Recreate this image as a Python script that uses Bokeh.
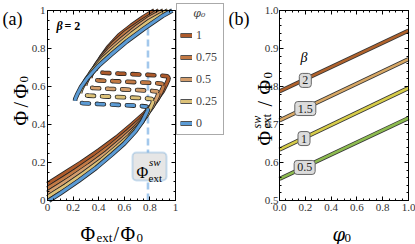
import math
from bokeh.plotting import figure
from bokeh.models import (Range1d, FixedTicker, LinearAxis, Label, Legend,
                          LegendItem, BoxAnnotation, CustomJSTickFormatter)
from bokeh.layouts import row
from bokeh.embed import file_html
from bokeh.resources import INLINE

# ---------------- panel (a) data : Phi/Phi0 vs Phi_ext/Phi0, beta = 2 ----------------
# phi0 = 0
x_lo_0 = [0.012, 0.1, 0.245, 0.38, 0.505, 0.6, 0.6875, 0.74, 0.77, 0.783, 0.785]
y_lo_0 = [0.0, 0.038, 0.105, 0.172, 0.243, 0.30, 0.365, 0.415, 0.455, 0.475, 0.485]
x_mid_0 = [0.785, 0.775, 0.72, 0.6, 0.5, 0.4, 0.28, 0.225, 0.215]
y_mid_0 = [0.485, 0.494, 0.498, 0.502, 0.505, 0.508, 0.512, 0.516, 0.525]
x_up_0 = [0.215, 0.217, 0.23, 0.26, 0.3125, 0.4, 0.495, 0.62, 0.755, 0.9, 0.975]
y_up_0 = [0.525, 0.535, 0.555, 0.595, 0.645, 0.71, 0.767, 0.838, 0.905, 0.972, 1.0]
# phi0 = 0.25
x_lo_025 = [0.0, 0.04, 0.14, 0.285, 0.42, 0.545, 0.64, 0.7275, 0.78, 0.81, 0.823, 0.825]
y_lo_025 = [0.018, 0.035, 0.078, 0.145, 0.212, 0.283, 0.34, 0.405, 0.455, 0.495, 0.515, 0.525]
x_mid_025 = [0.825, 0.815, 0.76, 0.64, 0.54, 0.44, 0.32, 0.265, 0.255]
y_mid_025 = [0.525, 0.534, 0.538, 0.542, 0.545, 0.548, 0.552, 0.556, 0.565]
x_up_025 = [0.255, 0.257, 0.27, 0.30, 0.3525, 0.44, 0.535, 0.66, 0.795, 0.94]
y_up_025 = [0.565, 0.575, 0.595, 0.635, 0.685, 0.75, 0.807, 0.878, 0.945, 1.0]
# phi0 = 0.5
x_lo_05 = [0.0, 0.08, 0.18, 0.325, 0.46, 0.585, 0.68, 0.7675, 0.82, 0.85, 0.863, 0.865]
y_lo_05 = [0.041, 0.075, 0.118, 0.185, 0.252, 0.323, 0.38, 0.445, 0.495, 0.535, 0.555, 0.565]
x_mid_05 = [0.865, 0.855, 0.80, 0.68, 0.58, 0.48, 0.36, 0.305, 0.295]
y_mid_05 = [0.565, 0.574, 0.578, 0.582, 0.585, 0.588, 0.592, 0.596, 0.605]
x_up_05 = [0.295, 0.297, 0.31, 0.34, 0.3925, 0.48, 0.575, 0.70, 0.80, 0.905]
y_up_05 = [0.605, 0.615, 0.635, 0.675, 0.725, 0.79, 0.847, 0.915, 0.962, 1.0]
# phi0 = 0.75
x_lo_075 = [0.0, 0.12, 0.22, 0.365, 0.50, 0.625, 0.72, 0.8075, 0.86, 0.89, 0.903, 0.905]
y_lo_075 = [0.064, 0.115, 0.158, 0.225, 0.292, 0.363, 0.42, 0.485, 0.535, 0.575, 0.595, 0.605]
x_mid_075 = [0.905, 0.895, 0.84, 0.72, 0.62, 0.52, 0.40, 0.345, 0.335]
y_mid_075 = [0.605, 0.614, 0.618, 0.622, 0.625, 0.628, 0.632, 0.636, 0.645]
x_up_075 = [0.335, 0.337, 0.35, 0.38, 0.4325, 0.52, 0.615, 0.74, 0.87]
y_up_075 = [0.645, 0.655, 0.675, 0.715, 0.765, 0.83, 0.887, 0.945, 1.0]
# phi0 = 1
x_lo_1 = [0.0, 0.16, 0.26, 0.405, 0.54, 0.665, 0.76, 0.8475, 0.90, 0.93, 0.943, 0.945]
y_lo_1 = [0.087, 0.155, 0.198, 0.265, 0.332, 0.403, 0.46, 0.525, 0.575, 0.615, 0.635, 0.645]
x_mid_1 = [0.945, 0.935, 0.88, 0.76, 0.66, 0.56, 0.44, 0.385, 0.375]
y_mid_1 = [0.645, 0.654, 0.658, 0.662, 0.665, 0.668, 0.672, 0.676, 0.685]
x_up_1 = [0.375, 0.377, 0.39, 0.42, 0.4725, 0.56, 0.655, 0.75, 0.835]
y_up_1 = [0.685, 0.695, 0.715, 0.755, 0.805, 0.87, 0.92, 0.965, 1.0]

phi0_labels = ["1", "0.75", "0.5", "0.25", "0"]
phi0_colors = ["#ad5a2b", "#c27944", "#d49e6c", "#dcc178", "#5b9bd5"]

# switching flux marker in (a)
sw_line_x = [0.785, 0.785]
sw_line_y = [0.0, 0.91]

# ---------------- panel (b) data : Phi_ext^sw vs phi0 ----------------
phi0_b = [0.0, 1.0]
sw_beta2 = [0.787, 0.947]
sw_beta15 = [0.711, 0.872]
sw_beta1 = [0.634, 0.796]
sw_beta05 = [0.557, 0.717]
beta_labels = ["2", "1.5", "1", "0.5"]
beta_colors = ["#b0622c", "#d8a865", "#d6cc4a", "#8dbb50"]
beta_label_x = [0.2, 0.2, 0.19, 0.195]
beta_label_y = [0.816, 0.742, 0.663, 0.587]

ticks_a = [0, 0.2, 0.4, 0.6, 0.8, 1]
tick_labels_a = ["0", "0.2", "0.4", "0.6", "0.8", "1"]
ticks_bx = [0, 0.2, 0.4, 0.6, 0.8, 1]
tick_labels_bx = ["0.0", "0.2", "0.4", "0.6", "0.8", "1.0"]
ticks_by = [0.5, 0.6, 0.7, 0.8, 0.9, 1.0]
tick_labels_by = ["0.5", "0.6", "0.7", "0.8", "0.9", "1.0"]

SERIF = "Liberation Serif"
PHIFONT = "DejaVu Serif"
H = 244
OUT = "#262626"
R = math.pi / 2


def add_axis(p, place, loc, bounds, ticks, labels, minor, show=True, standoff=3):
    ax = LinearAxis(fixed_location=loc, bounds=bounds)
    ax.ticker = FixedTicker(ticks=ticks, minor_ticks=minor)
    ax.axis_line_color = "black"
    ax.major_tick_line_color = "black"
    ax.minor_tick_line_color = "black"
    ax.major_tick_in = 4
    ax.major_tick_out = 0
    ax.minor_tick_in = 2
    ax.minor_tick_out = 0
    if show:
        ax.major_label_overrides = {t: l for t, l in zip(ticks, labels)}
        ax.major_label_text_font = SERIF
        ax.major_label_text_font_size = "11px"
        ax.major_label_text_color = "#333333"
        ax.major_label_standoff = standoff
    else:
        ax.formatter = CustomJSTickFormatter(code="return ''")
        ax.major_label_text_font_size = "0px"
        ax.major_label_standoff = 0
    p.add_layout(ax, place)


# canvas-relative placement (frame == canvas); cl = image x of canvas left
def lab(p, cl, ix, iy, text, size, angle=0.0, style="normal", color="black", font=SERIF):
    p.add_layout(Label(x=ix - cl, y=H - iy, x_units="screen", y_units="screen",
                       text=text, text_font=font, text_font_size=f"{size}px",
                       text_font_style=style, text_color=color, angle=angle,
                       text_align="left", text_baseline="alphabetic"))


def base_fig(w, xr, yr):
    p = figure(width=w, height=H, x_range=xr, y_range=yr, output_backend="svg",
               toolbar_location=None, x_axis_location=None, y_axis_location=None,
               min_border=0, min_border_left=0, min_border_right=0,
               min_border_top=0, min_border_bottom=0)
    p.grid.visible = False
    p.outline_line_color = None
    p.background_fill_color = "white"
    p.border_fill_color = "white"
    return p


# ====================== panel (a) ======================
# frame spans the canvas; data box [0,1]x[0,1] sits at image x 47..175, y 200..10
pA = base_fig(226, Range1d(-47 / 128, 179 / 128), Range1d(-44 / 190, 200 / 190))
minor_a = [i * 0.05 for i in range(21)]
add_axis(pA, "below", 0, (0, 1), ticks_a, tick_labels_a, minor_a, standoff=3)
add_axis(pA, "left", 0, (0, 1), ticks_a, tick_labels_a, minor_a, standoff=2)
add_axis(pA, "above", 1, (0, 1), ticks_a, tick_labels_a, minor_a, show=False)
add_axis(pA, "right", 1, (0, 1), ticks_a, tick_labels_a, minor_a, show=False)

pA.line(sw_line_x, sw_line_y, line_color="#a3c8ec", line_width=2.6, line_dash="7 4")

series = [
    (x_lo_1, y_lo_1, x_mid_1, y_mid_1, x_up_1, y_up_1),
    (x_lo_075, y_lo_075, x_mid_075, y_mid_075, x_up_075, y_up_075),
    (x_lo_05, y_lo_05, x_mid_05, y_mid_05, x_up_05, y_up_05),
    (x_lo_025, y_lo_025, x_mid_025, y_mid_025, x_up_025, y_up_025),
    (x_lo_0, y_lo_0, x_mid_0, y_mid_0, x_up_0, y_up_0),
]
for (xl, yl, xm, ym, xu, yu), col in zip(series, phi0_colors):
    pA.line(xm, ym, line_color=OUT, line_width=4.6, line_dash="7 8", line_cap="round")
    pA.line(xm, ym, line_color=col, line_width=3.0, line_dash="7 8", line_cap="round")

items = []
for (xl, yl, xm, ym, xu, yu), col, lbl in zip(series, phi0_colors, phi0_labels):
    r1 = pA.line(xl, yl, line_color=OUT, line_width=4.6, line_join="round")
    r2 = pA.line(xl, yl, line_color=col, line_width=3.0, line_join="round")
    pA.line(xu, yu, line_color=OUT, line_width=4.6, line_join="round")
    pA.line(xu, yu, line_color=col, line_width=3.0, line_join="round")
    items.append(LegendItem(label=lbl, renderers=[r1, r2]))

pA.add_layout(BoxAnnotation(left=0.664, right=0.93, bottom=0.105, top=0.253,
                            fill_color="#e6e6e6", fill_alpha=1, line_color="#5b9bd5",
                            line_width=2, border_radius=4))

legend = Legend(items=items, title="\u2003\u2009φ₀", location=(176, H - 135), margin=0,
                padding=3, spacing=6, glyph_width=12, glyph_height=16, label_height=16,
                label_width=24, label_standoff=4, label_text_font=SERIF,
                label_text_font_size="12px",
                title_text_font=PHIFONT, title_text_font_style="italic",
                title_text_font_size="11px", title_standoff=7,
                border_line_color="#555555", border_line_width=1,
                background_fill_color="white", background_fill_alpha=1)
pA.add_layout(legend)

CA = 0
lab(pA, CA, 136, 172, "Φ", 16)
lab(pA, CA, 148.5, 161, "sw", 11, style="italic")
lab(pA, CA, 148, 177, "ext", 11)
lab(pA, CA, 2, 18, "(a)", 18)
lab(pA, CA, 56, 25, "β", 12, style="bold italic")
lab(pA, CA, 64, 25, "= 2", 12, style="bold")
# x axis label  Phi_ext / Phi_0
lab(pA, CA, 80, 233, "Φ", 20)
lab(pA, CA, 96, 237, "ext", 13)
lab(pA, CA, 113, 233, "/", 20)
lab(pA, CA, 120, 233, "Φ", 20)
lab(pA, CA, 136, 237, "0", 13)
# y axis label  Phi / Phi_0 (rotated)
lab(pA, CA, 20, 125, "Φ", 20, angle=R)
lab(pA, CA, 20, 107, "/", 20, angle=R)
lab(pA, CA, 20, 98, "Φ", 20, angle=R)
lab(pA, CA, 23, 82, "0", 13, angle=R)

# ====================== panel (b) ======================
# data box [0,1]x[0.5,1] sits at image x 279..408, y 200..10
pB = base_fig(189, Range1d(-53 / 129, 136 / 129), Range1d(0.5 - 22 / 190, 0.5 + 100 / 190))
minor_bx = [i * 0.05 for i in range(21)]
minor_by = [0.5 + i * 0.02 for i in range(26)]
add_axis(pB, "below", 0.5, (0, 1), ticks_bx, tick_labels_bx, minor_bx, standoff=3)
add_axis(pB, "left", 0, (0.5, 1), ticks_by, tick_labels_by, minor_by, standoff=1)
add_axis(pB, "above", 1.0, (0, 1), ticks_bx, tick_labels_bx, minor_bx, show=False)
add_axis(pB, "right", 1.0, (0.5, 1), ticks_by, tick_labels_by, minor_by, show=False)

for ys, col in zip([sw_beta2, sw_beta15, sw_beta1, sw_beta05], beta_colors):
    pB.line(phi0_b, ys, line_color="#333333", line_width=4.2)
    pB.line(phi0_b, ys, line_color=col, line_width=2.6)

for bx, by, bl in zip(beta_label_x, beta_label_y, beta_labels):
    pB.add_layout(Label(x=bx, y=by, text=bl, text_font=SERIF, text_font_size="12px",
                        text_align="center", text_baseline="middle", text_color="#222222",
                        background_fill_color="#dcdcdc", background_fill_alpha=1,
                        border_line_color="#666666", border_line_width=1,
                        padding=3, border_radius=3))

CB = 226
lab(pB, CB, 228, 18, "(b)", 18)
lab(pB, CB, 300, 57, "β", 14, style="italic")
# x label phi_0
lab(pB, CB, 332, 234, "φ", 18, style="italic", font=PHIFONT)
lab(pB, CB, 344, 237, "0", 13)
# y label Phi_ext^sw / Phi_0 (rotated)
lab(pB, CB, 264, 145, "Φ", 20, angle=R)
lab(pB, CB, 256, 128, "sw", 12, angle=R, style="italic")
lab(pB, CB, 266.5, 128, "ext", 12, angle=R)
lab(pB, CB, 264, 106, "/", 20, angle=R)
lab(pB, CB, 264, 94, "Φ", 20, angle=R)
lab(pB, CB, 267, 78, "0", 13, angle=R)

layout = row(pA, pB)
open("out.html", "w").write(file_html(layout, INLINE))
